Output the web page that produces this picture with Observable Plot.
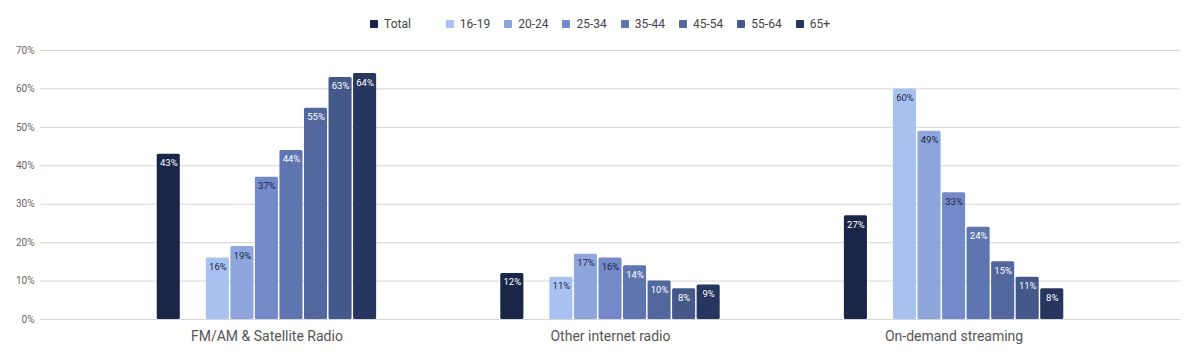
<!DOCTYPE html>
<html>
<head>
<meta charset="utf-8">
<script src="https://cdn.jsdelivr.net/npm/d3@7"></script>
<script src="https://cdn.jsdelivr.net/npm/@observablehq/plot@0.6"></script>
<style>
  body { margin: 0; background: #fff; font-family: Roboto, "Noto Sans", sans-serif; }
  #legend { box-sizing: border-box; height: 40px; padding-top: 8px; display: flex; justify-content: center; align-items: center; font-size: 12px; color: #444; }
  .item { display: inline-flex; align-items: center; margin: 0 7px; }
  .sw { width: 8px; height: 8px; border-radius: 1px; margin-right: 6px; }
  .spacer { width: 21px; }
  #chart svg { display: block; }
</style>
</head>
<body>
<div id="legend"></div>
<div id="chart"></div>
<script>
const groups = ["FM/AM & Satellite Radio", "Other internet radio", "On-demand streaming"];
const series = ["Total", "16-19", "20-24", "25-34", "35-44", "45-54", "55-64", "65+"];
const colors = ["#1a2647", "#a9c1f1", "#8ea6dc", "#7489c7", "#5f75b0", "#53679f", "#44588a", "#26365e"];
const fmValues = [43, 16, 19, 37, 44, 55, 63, 64];
const otherValues = [12, 11, 17, 16, 14, 10, 8, 9];
const demandValues = [27, 60, 49, 33, 24, 15, 11, 8];
const yTicks = [0, 10, 20, 30, 40, 50, 60, 70];
const lightLabelSeries = ["16-19", "20-24", "25-34"];

const valuesByGroup = [fmValues, otherValues, demandValues];
const slots = ["Total", "_blank", ...series.slice(1)];
const key = (gi, s) => gi + "|" + s;
const xDomain = [];
groups.forEach((g, gi) => {
  slots.forEach(s => xDomain.push(key(gi, s)));
  if (gi < groups.length - 1) for (let k = 0; k < 5; k++) xDomain.push(key(gi, "_sp" + k));
});
const middleKeys = groups.map((g, gi) => key(gi, "25-34"));

const rows = groups.flatMap((g, gi) => series.map((s, si) => ({group: g, gi, series: s, value: valuesByGroup[gi][si]})));
const lightSet = new Set(lightLabelSeries);

// legend
const legend = document.getElementById("legend");
series.forEach((s, i) => {
  const it = document.createElement("span");
  it.className = "item";
  it.innerHTML = `<span class="sw" style="background:${colors[i]}"></span><span>${s}</span>`;
  legend.appendChild(it);
  if (i === 0) {
    const sp = document.createElement("span");
    sp.className = "spacer";
    legend.appendChild(sp);
  }
});

const chart = Plot.plot({
  width: 1200,
  height: 323,
  marginLeft: 40,
  marginRight: 20,
  marginTop: 10,
  marginBottom: 44,
  style: {fontFamily: "Roboto, sans-serif", background: "white"},
  x: {domain: xDomain, range: [156, 1064], round: false, paddingInner: 0.06, paddingOuter: 0.03, label: null},
  y: {domain: [0, 70], label: null},
  color: {domain: series, range: colors},
  marks: [
    Plot.gridY(yTicks, {stroke: "#d6d6d6", strokeOpacity: 1}),
    Plot.axisY(yTicks, {tickSize: 0, tickPadding: 6, tickFormat: d => d + "%", fontSize: 10, fill: "#666", label: null}),
    Plot.barY(rows, {x: d => key(d.gi, d.series), y: "value", fill: "series", rx: 1.5}),
    Plot.text(rows.filter(d => lightSet.has(d.series)), {x: d => key(d.gi, d.series), y: "value", text: d => d.value + "%", dy: 9, fill: "#1a2647", fontSize: 9.5, fontWeight: "normal"}),
    Plot.text(rows.filter(d => !lightSet.has(d.series)), {x: d => key(d.gi, d.series), y: "value", text: d => d.value + "%", dy: 9, fill: "white", fontSize: 9.5, fontWeight: "normal"}),
    Plot.axisX(middleKeys, {tickSize: 0, tickPadding: 12, tickFormat: k => groups[+k.split("|")[0]], fontSize: 14, fill: "#555", label: null})
  ]
});
document.getElementById("chart").appendChild(chart);
</script>
</body>
</html>
